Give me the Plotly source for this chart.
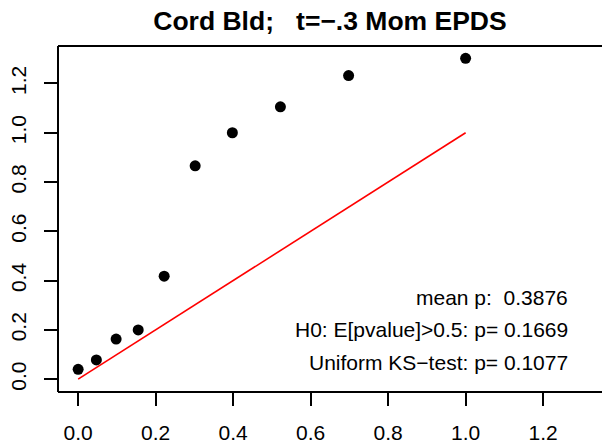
import plotly.graph_objects as go

# observed vs expected quantiles
x_vals = [0.0, 0.047, 0.098, 0.155, 0.222, 0.302, 0.398, 0.522, 0.698, 1.0]
y_vals = [0.040, 0.078, 0.163, 0.200, 0.418, 0.866, 1.000, 1.105, 1.232, 1.302]
ref_x = [0, 1]
ref_y = [0, 1]

tick_vals = [0.0, 0.2, 0.4, 0.6, 0.8, 1.0, 1.2]
tick_text = ["0.0", "0.2", "0.4", "0.6", "0.8", "1.0", "1.2"]

title = "Cord Bld;\u00a0\u00a0\u00a0t=\u2212.3 Mom EPDS"
notes = [
    "mean p:\u00a0\u00a00.3876",
    "H0: E[pvalue]>0.5: p= 0.1669",
    "Uniform KS\u2212test: p= 0.1077",
]
note_y = [0.333, 0.200, 0.069]

FONT = "Liberation Sans, Arial, Helvetica, sans-serif"
rng = [-0.052, 1.352]

fig = go.Figure()
fig.add_trace(go.Scatter(
    x=ref_x, y=ref_y, mode="lines",
    line=dict(color="#ff0000", width=1.6),
    showlegend=False, hoverinfo="skip",
))
fig.add_trace(go.Scatter(
    x=x_vals, y=y_vals, mode="markers",
    marker=dict(color="black", size=11),
    showlegend=False,
))

for txt, yy in zip(notes, note_y):
    fig.add_annotation(
        x=1.27, y=yy, xref="x", yref="y", text=txt, showarrow=False,
        xanchor="right", yanchor="middle",
        font=dict(family=FONT, size=21, color="black"),
    )

# box (right side falls off the page)
for x0, y0, x1, y1 in [(0, 0, 0, 1), (0, 1, 1.05, 1), (0, 0, 1.05, 0)]:
    fig.add_shape(type="line", xref="paper", yref="paper",
                  x0=x0, y0=y0, x1=x1, y1=y1,
                  line=dict(color="black", width=2))

axis_common = dict(
    range=rng, tickvals=tick_vals, ticktext=tick_text,
    showgrid=False, zeroline=False, showline=False, automargin=False,
    ticks="outside", ticklen=13, tickwidth=1.5, tickcolor="black",
    tickfont=dict(family=FONT, size=21, color="black"),
)
fig.update_xaxes(**axis_common, ticklabelstandoff=9)
fig.update_yaxes(**axis_common, tickangle=-90, ticklabelstandoff=10)

fig.update_layout(
    width=602, height=445,
    margin=dict(l=58, r=0, t=46, b=53),
    plot_bgcolor="white", paper_bgcolor="white",
    title=dict(
        text="<b>" + title + "</b>", x=330 / 602,
        xanchor="center", y=1 - 21 / 445, yanchor="middle",
        font=dict(family=FONT, size=26.5, color="black"),
    ),
)

fig.write_html(
    "out.html",
    config={"displayModeBar": False},
    post_script="document.body.style.margin='0';",
)
